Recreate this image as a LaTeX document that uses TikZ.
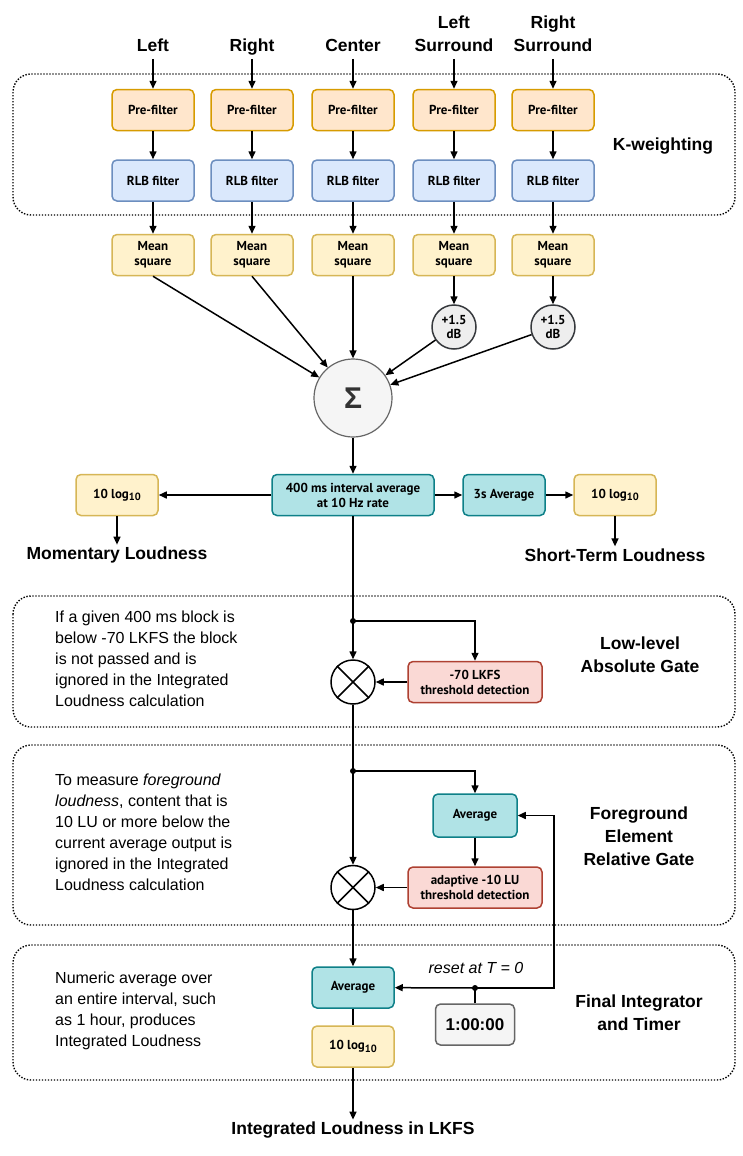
\documentclass[tikz,border=0pt]{standalone}
\usepackage{fontspec}
\setmainfont{Liberation Sans}
\newfontfamily\boxfont{PT Sans}
\usetikzlibrary{arrows.meta,positioning}

\definecolor{preF}{HTML}{FFE6CC}
\definecolor{preD}{HTML}{D79B00}
\definecolor{rlbF}{HTML}{DAE8FC}
\definecolor{rlbD}{HTML}{6C8EBF}
\definecolor{msF}{HTML}{FFF2CC}
\definecolor{msD}{HTML}{D6B656}
\definecolor{avgF}{HTML}{B0E3E6}
\definecolor{avgD}{HTML}{0E8088}
\definecolor{thrF}{HTML}{FAD9D5}
\definecolor{thrD}{HTML}{AE4132}
\definecolor{gainF}{HTML}{EEEEEE}
\definecolor{gainD}{HTML}{36393D}
\definecolor{sumF}{HTML}{F5F5F5}
\definecolor{sumD}{HTML}{666666}

\newcommand{\logten}{10 log\raisebox{-0.35ex}{\fontsize{10.5}{10.5}\selectfont 10}}

\begin{document}
\begin{tikzpicture}[x=1pt,y=-1pt,
      mybox/.style={
         draw,
         rounded corners=5pt,
         line width=1.5pt,
         minimum width=82pt,
         minimum height=41pt,
         inner sep=1pt,
         align=center,
         font=\boxfont\fontsize{13}{15}\selectfont\bfseries},
      prebox/.style={mybox,draw=preD,fill=preF},
      rlbbox/.style={mybox,draw=rlbD,fill=rlbF},
      msbox/.style={mybox,draw=msD,fill=msF},
      avgbox/.style={mybox,draw=avgD,fill=avgF},
      thrbox/.style={mybox,draw=thrD,fill=thrF,minimum width=134pt},
      clockbox/.style={mybox,draw=sumD,fill=sumF,minimum width=79pt,
         font=\fontsize{17}{20}\selectfont\bfseries},
      gaincircle/.style={circle,draw=gainD,fill=gainF,line width=1.5pt,
         minimum size=44pt,inner sep=0pt,align=center,
         font=\boxfont\fontsize{13}{14}\selectfont\bfseries},
      sumcircle/.style={circle,draw=sumD,fill=sumF,line width=1.2pt,
         minimum size=78pt,text=black!80,font=\fontsize{30}{30}\selectfont\bfseries},
      gatecircle/.style={circle,draw,fill=white,line width=1.5pt,minimum size=44pt},
      jdot/.style={circle,fill,inner sep=0pt,minimum size=6pt},
      title/.style={font=\fontsize{17.5}{23}\selectfont\bfseries,align=center,inner sep=2pt},
      note/.style={font=\fontsize{16}{21}\selectfont,align=left,anchor=north west,inner sep=0pt},
      group/.style={line width=1.4pt,dash pattern=on 1.4pt off 1.6pt,rounded corners=18pt},
      myarrow/.style={-{Triangle[length=8pt,width=7pt]},line width=1.5pt},
      myline/.style={line width=1.5pt}
      ]
      \fill[white] (0,0) rectangle (742,1156);
      \useasboundingbox (0,0) rectangle (742,1156);

      % dotted groups
      \draw[group] (13,74) rectangle (735,215);
      \draw[group] (13,596) rectangle (735,727);
      \draw[group] (13,745) rectangle (735,925);
      \draw[group] (13,945) rectangle (735,1080);

      % channels
    \foreach \n/\x/\txt in {% name/x/channel
      l/153/Left,
      r/252/Right,
      c/353/Center,
      ls/454/{Left\\Surround},
      rs/553/{Right\\Surround}}
    {
      \node[title,anchor=south,text depth=0pt] (in\n) at (\x,54) {\txt};
      \node[prebox] (pre\n) at (\x,110) {Pre-filter};
      \node[rlbbox] (rlb\n) at (\x,180.5) {RLB filter};
      \node[msbox] (ms\n) at (\x,255) {Mean\\square};
      \draw[myarrow,shorten <=5pt] (in\n) -- (pre\n);
      \draw[myarrow] (pre\n) -- (rlb\n);
      \draw[myarrow] (rlb\n) -- (ms\n);
    }
      \node[title] (kw) at (663,146) {K-weighting};

      \node[gaincircle] (gainls) at (454,327) {+1.5\\dB};
      \node[gaincircle] (gainrs) at (553,327) {+1.5\\dB};
      \node[sumcircle] (sum) at (353,398) {Σ};
      \draw[myarrow] (msls) -- (gainls);
      \draw[myarrow] (msrs) -- (gainrs);
    \foreach \i in {msl.south,msr.south,msc,gainls,gainrs}
      \draw[myarrow] (\i) -- (sum);

      % short-term and momentary
      \node[avgbox,minimum width=162pt] (avg400) at (353,495) {400 ms interval average\\at 10 Hz rate};
      \node[msbox] (logm) at (117,495) {\logten};
      \node[avgbox] (avg3s) at (504,495) {3s Average};
      \node[msbox] (logs) at (615,495) {\logten};
      \node[title] (mom) at (117,555) {Momentary Loudness};
      \node[title] (short) at (615,555) {Short-Term Loudness};
    \foreach \i/\j in {sum/avg400, avg400/logm, avg400/avg3s, avg3s/logs, logm/mom, logs/short}
      \draw[myarrow] (\i) -- (\j);

      % absolute gate
      \node[jdot] (d1) at (353,621) {};
      \node[gatecircle] (x1) at (353,682) {};
      \node[thrbox] (thr1) at (475,682) {-70 LKFS\\threshold detection};
      \draw[myarrow] (avg400) -- (x1);
      \draw[myarrow] (d1.center) -| (thr1);
      \draw[myarrow] (thr1) -- (x1);
      \draw[myline] (x1.north west) -- (x1.south east) (x1.north east) -- (x1.south west);
      \node[note] (note1) at (55,611) {If a given 400 ms block is\\below -70 LKFS the block\\is not passed and is\\ignored in the Integrated\\Loudness calculation};
      \node[title] (gate1) at (640,655) {Low-level\\Absolute Gate};

      % relative gate
      \node[jdot] (d2) at (353,771) {};
      \node[avgbox,minimum width=84pt,minimum height=43pt] (avgf) at (475,815.5) {Average};
      \node[thrbox] (thr2) at (475,887.5) {adaptive -10 LU\\threshold detection};
      \node[gatecircle] (x2) at (353,887.5) {};
      \draw[myarrow] (x1) -- (x2);
      \draw[myarrow] (d2.center) -| (avgf);
      \draw[myarrow] (avgf) -- (thr2);
      \draw[myarrow] (thr2) -- (x2);
      \draw[myline] (x2.north west) -- (x2.south east) (x2.north east) -- (x2.south west);
      \node[note] (note2) at (55,774) {To measure \textit{foreground}\\\textit{loudness}, content that is\\10 LU or more below the\\current average output is\\ignored in the Integrated\\Loudness calculation};
      \node[title] (gate2) at (639,836) {Foreground\\Element\\Relative Gate};

      % integrator and timer
      \node[avgbox] (avgi) at (353,987.5) {Average};
      \node[msbox] (logi) at (353,1046.5) {\logten};
      \node[clockbox] (clock) at (475,1024.5) {1:00:00};
      \node[jdot] (d3) at (475,988) {};
      \coordinate (fb) at (554,988);
      \node[font=\fontsize{16}{19}\selectfont\itshape] (reset) at (476,968) {reset at T = 0};
      \node[title] (outl) at (353,1130) {Integrated Loudness in LKFS};
      \draw[myarrow] (x2) -- (avgi);
      \draw[myline] (avgi) -- (logi);
      \draw[myarrow] (logi) -- (outl);
      \draw[myline] (clock) -- (d3.center);
      \draw[myarrow] (d3.center) -- (avgi);
      \draw[myarrow] (d3.center) -- (fb) |- (avgf);
      \node[note] (note3) at (55,972) {Numeric average over\\an entire interval, such\\as 1 hour, produces\\Integrated Loudness};
      \node[title] (gate3) at (639,1013) {Final Integrator\\and Timer};

    \end{tikzpicture}
\end{document}
